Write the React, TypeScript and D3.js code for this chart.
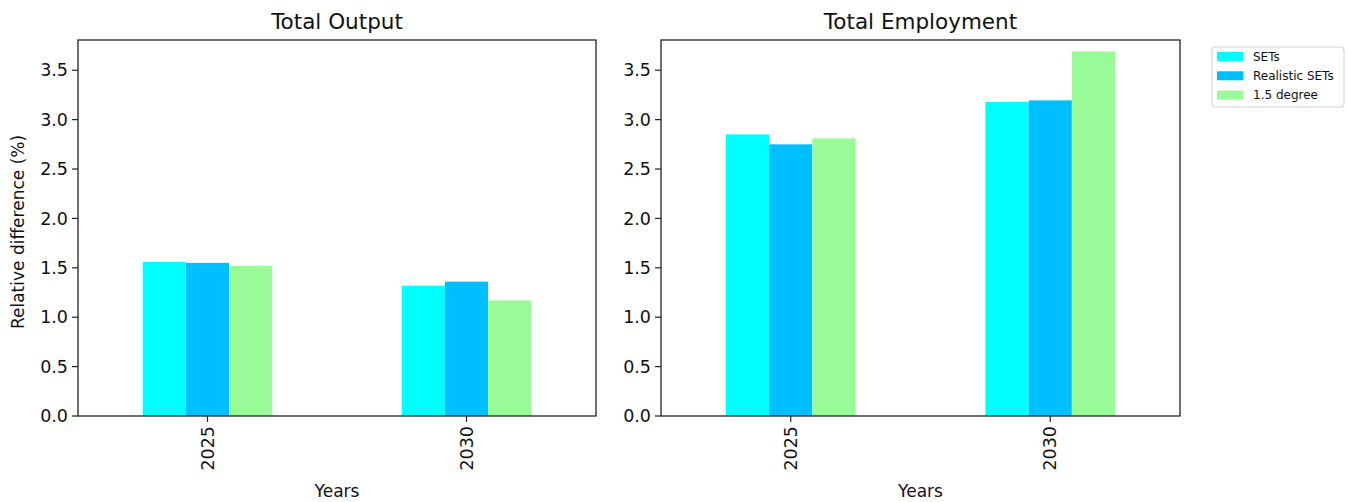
import React from "react";
import * as d3 from "d3";

const years = ["2025", "2030"];
const seriesNames = ["SETs", "Realistic SETs", "1.5 degree"];
const seriesColors = ["#00FFFF", "#00BFFF", "#98FB98"];

// Relative difference (%) per series, one value per year
const outputSETs = [1.56, 1.32];
const outputRealistic = [1.55, 1.36];
const outputDegree = [1.52, 1.17];

const employmentSETs = [2.85, 3.18];
const employmentRealistic = [2.75, 3.195];
const employmentDegree = [2.81, 3.69];

const yTicks = [0, 0.5, 1, 1.5, 2, 2.5, 3, 3.5];

const FONT = "DejaVu Sans, sans-serif";

type PanelProps = {
  title: string;
  left: number;
  right: number;
  series: number[][];
  showYLabel: boolean;
};

const TOP = 40;
const BOTTOM = 416;

function Panel({ title, left, right, series, showYLabel }: PanelProps) {
  const y = d3.scaleLinear().domain([0, 3.806]).range([BOTTOM, TOP]);
  const x = d3
    .scaleBand()
    .domain(years)
    .range([left, right])
    .paddingInner(0.5)
    .paddingOuter(0.25);
  const inner = d3
    .scaleBand()
    .domain(seriesNames)
    .range([0, x.bandwidth()])
    .padding(0);
  const cx = (left + right) / 2;

  return (
    <g>
      {years.map((yr, i) =>
        seriesNames.map((s, j) => {
          const v = series[j][i];
          return (
            <rect
              key={yr + s}
              x={(x(yr) as number) + (inner(s) as number)}
              y={y(v)}
              width={inner.bandwidth()}
              height={y(0) - y(v)}
              fill={seriesColors[j]}
            />
          );
        })
      )}
      <rect
        x={left}
        y={TOP}
        width={right - left}
        height={BOTTOM - TOP}
        fill="none"
        stroke="#222"
        strokeWidth={1.3}
      />
      {yTicks.map((t) => (
        <g key={t} transform={`translate(${left},${y(t)})`}>
          <line x1={-6} x2={0} stroke="#222" strokeWidth={1.2} />
          <text
            x={-10}
            dy="0.35em"
            textAnchor="end"
            fontSize={17.5}
            fontFamily={FONT}
            fill="#111"
          >
            {d3.format(".1f")(t)}
          </text>
        </g>
      ))}
      {years.map((yr) => {
        const tx = (x(yr) as number) + x.bandwidth() / 2;
        return (
          <g key={yr} transform={`translate(${tx},${BOTTOM})`}>
            <line y1={0} y2={6} stroke="#222" strokeWidth={1.2} />
            <text
              transform="translate(0,10) rotate(-90)"
              dy="0.35em"
              textAnchor="end"
              fontSize={17.5}
              fontFamily={FONT}
              fill="#111"
            >
              {yr}
            </text>
          </g>
        );
      })}
      <text
        x={cx}
        y={29}
        textAnchor="middle"
        fontSize={21.5}
        fontFamily={FONT}
        fill="#111"
      >
        {title}
      </text>
      <text
        x={cx}
        y={497}
        textAnchor="middle"
        fontSize={17}
        fontFamily={FONT}
        fill="#111"
      >
        Years
      </text>
      {showYLabel && (
        <text
          transform={`translate(24,${(TOP + BOTTOM) / 2 + 4}) rotate(-90)`}
          textAnchor="middle"
          fontSize={17}
          fontFamily={FONT}
          fill="#111"
        >
          Relative difference (%)
        </text>
      )}
    </g>
  );
}

function Legend() {
  const lx = 1212;
  const ly = 47;
  return (
    <g>
      <rect
        x={lx}
        y={ly}
        width={132}
        height={60}
        rx={3}
        fill="#fff"
        stroke="#d0d0d0"
        strokeWidth={1}
      />
      {seriesNames.map((s, i) => (
        <g key={s} transform={`translate(${lx + 5},${ly + 9.5 + i * 19.3})`}>
          <rect x={0} y={-4.5} width={26.5} height={9} fill={seriesColors[i]} />
          <text
            x={36}
            dy="0.35em"
            fontSize={12}
            fontFamily={FONT}
            fill="#111"
          >
            {s}
          </text>
        </g>
      ))}
    </g>
  );
}

export default function App() {
  return (
    <svg
      width={1348}
      height={502}
      style={{ position: "absolute", left: 0, top: 0, background: "#fff" }}
    >
      <rect width={1348} height={502} fill="#fff" />
      <Panel
        title="Total Output"
        left={78}
        right={596}
        series={[outputSETs, outputRealistic, outputDegree]}
        showYLabel={true}
      />
      <Panel
        title="Total Employment"
        left={661}
        right={1180}
        series={[employmentSETs, employmentRealistic, employmentDegree]}
        showYLabel={false}
      />
      <Legend />
    </svg>
  );
}
